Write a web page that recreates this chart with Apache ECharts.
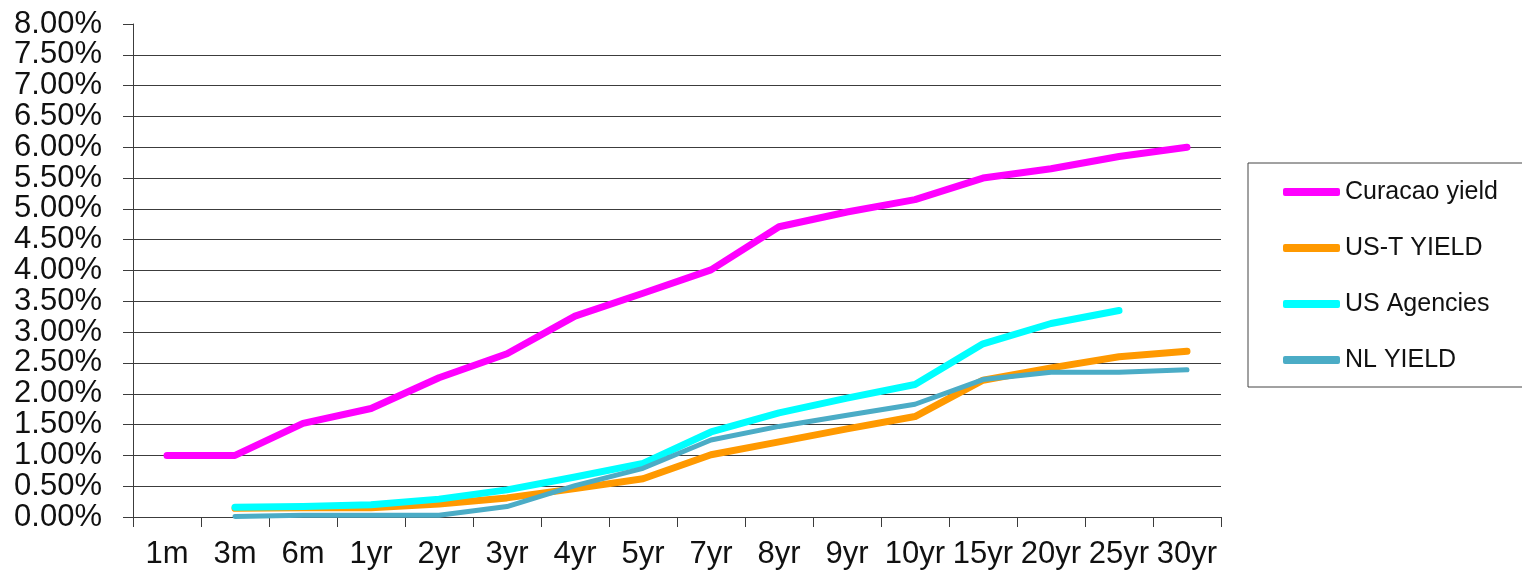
<!DOCTYPE html>
<html>
<head>
<meta charset="utf-8">
<script src="https://cdn.jsdelivr.net/npm/echarts@6/dist/echarts.min.js"></script>
<style>
html,body{margin:0;padding:0;background:#fff;}
#chart{width:1522px;height:579px;}
</style>
</head>
<body>
<div id="chart"></div>
<script>
const categories = ['1m','3m','6m','1yr','2yr','3yr','4yr','5yr','7yr','8yr','9yr','10yr','15yr','20yr','25yr','30yr'];
const curacaoYield = [1.00,1.00,1.52,1.76,2.26,2.65,3.26,3.63,4.01,4.71,4.95,5.15,5.50,5.65,5.85,6.00];
const ustYield     = [null,0.14,0.15,0.15,0.21,0.31,0.46,0.62,1.01,1.22,1.43,1.63,2.22,2.42,2.60,2.69];
const usAgencies   = [null,0.16,0.17,0.20,0.29,0.44,0.65,0.87,1.38,1.69,1.93,2.15,2.81,3.14,3.35,null];
const nlYield      = [null,0.01,0.03,0.03,0.03,0.17,0.51,0.79,1.25,1.47,1.65,1.83,2.23,2.35,2.35,2.39];
const seriesNames  = ['Curacao yield','US-T YIELD','US Agencies','NL YIELD'];

const FONT = "'Liberation Sans', Arial, sans-serif";
const gridColors = [];
for (let i = 0; i < 16; i++) gridColors.push('#3c3c3c');
gridColors.push('rgba(0,0,0,0)');

const chart = echarts.init(document.getElementById('chart'), null, {renderer:'canvas'});
function mk(name, data, color, width) {
  return {
    name: name, type: 'line', data: data, symbol: 'none', showSymbol: false,
    connectNulls: false, animation: false,
    lineStyle: {color: color, width: width, cap: 'round', join: 'round'},
    itemStyle: {color: color}
  };
}
chart.setOption({
  animation: false,
  backgroundColor: '#fff',
  grid: {left: 133, right: 301, top: 24, bottom: 62, containLabel: false},
  xAxis: {
    type: 'category', data: categories, boundaryGap: true,
    axisLine: {show: true, lineStyle: {color: '#3c3c3c', width: 1}},
    axisTick: {show: true, length: 10, inside: false, alignWithLabel: false, lineStyle: {color: '#3c3c3c'}},
    axisLabel: {margin: 22, color: '#111', fontSize: 31, fontFamily: FONT, interval: 0},
    splitLine: {show: false}
  },
  yAxis: {
    type: 'value', min: 0, max: 8, interval: 0.5,
    axisLine: {show: true, lineStyle: {color: '#3c3c3c', width: 1}},
    axisTick: {show: true, length: 10, inside: false, lineStyle: {color: '#3c3c3c'}},
    axisLabel: {margin: 31, color: '#111', fontSize: 31, fontFamily: FONT,
      formatter: function(v){ return v.toFixed(2) + '%'; }},
    splitLine: {show: true, lineStyle: {color: gridColors, width: 1}}
  },
  legend: {
    orient: 'vertical', left: 1248, top: 163,
    padding: [14, 60, 12, 35],
    borderColor: '#444', borderWidth: 1,
    itemWidth: 57, itemHeight: 8, itemGap: 26,
    icon: 'roundRect',
    data: seriesNames,
    textStyle: {fontSize: 25, fontFamily: FONT, color: '#111', lineHeight: 30, height: 30}
  },
  series: [
    mk(seriesNames[0], curacaoYield, '#FF00FF', 7),
    mk(seriesNames[1], ustYield, '#FF9900', 7),
    mk(seriesNames[2], usAgencies, '#00FFFF', 7),
    mk(seriesNames[3], nlYield, '#4BACC6', 5)
  ]
});
</script>
</body>
</html>
